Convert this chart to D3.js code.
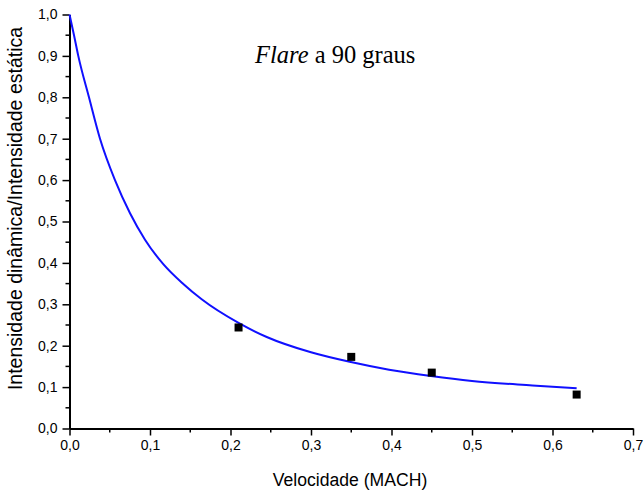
<!DOCTYPE html>
<html>
<head>
<meta charset="utf-8">
<script src="https://cdn.jsdelivr.net/npm/d3@7"></script>
<style>
  html, body { margin: 0; padding: 0; background: #fff; }
  svg { display: block; }
</style>
</head>
<body>
<svg id="chart" width="644" height="493"></svg>
<script>
// Measured points (Mach number vs. dynamic/static intensity ratio)
const machMeasured = [0.21, 0.35, 0.45, 0.63];
const ratioMeasured = [0.244, 0.173, 0.135, 0.082];

// Fitted decay curve
const machFit = [0, 0.0056, 0.0109, 0.0242, 0.0379, 0.0565, 0.0752, 0.0938, 0.1165, 0.1414, 0.1642, 0.21, 0.245, 0.30, 0.348, 0.397, 0.449, 0.50, 0.575, 0.63];
const ratioFit = [1.0, 0.95, 0.9, 0.8, 0.7, 0.6, 0.52, 0.456, 0.397, 0.349, 0.312, 0.255, 0.221, 0.184, 0.161, 0.142, 0.127, 0.115, 0.104, 0.097];

// Axis ticks
const xTicks = [0, 0.1, 0.2, 0.3, 0.4, 0.5, 0.6, 0.7];
const yTicks = [0, 0.1, 0.2, 0.3, 0.4, 0.5, 0.6, 0.7, 0.8, 0.9, 1.0];

const fmt = d => d3.format(".1f")(d).replace(".", ",");

const svg = d3.select("#chart");
const x = d3.scaleLinear().domain([0, 0.7]).range([69.5, 633]);
const y = d3.scaleLinear().domain([0, 1]).range([428.5, 14.5]);

const minorX = d3.range(0.05, 0.7, 0.1);
const minorY = d3.range(0.05, 1.0, 0.1);

const sansFont = "Liberation Sans, Arial, sans-serif";

// Bottom axis
const gx = svg.append("g").attr("transform", `translate(0,${y(0)})`);
gx.call(d3.axisBottom(x).tickValues(xTicks).tickFormat(fmt).tickSize(7).tickSizeOuter(0).tickPadding(5));
gx.selectAll(null).data(minorX).enter().append("line")
  .attr("x1", d => x(d)).attr("x2", d => x(d)).attr("y1", 0).attr("y2", 4)
  .attr("stroke", "#000").attr("stroke-width", 1.5);

// Left axis
const gy = svg.append("g").attr("transform", `translate(${x(0)},0)`);
gy.call(d3.axisLeft(y).tickValues(yTicks).tickFormat(fmt).tickSize(7).tickSizeOuter(0).tickPadding(5));
gy.selectAll(null).data(minorY).enter().append("line")
  .attr("y1", d => y(d)).attr("y2", d => y(d)).attr("x1", 0).attr("x2", -4)
  .attr("stroke", "#000").attr("stroke-width", 1.5);

[gx, gy].forEach(g => {
  g.select(".domain").attr("stroke", "#000").attr("stroke-width", 2);
  g.selectAll(".tick line").attr("stroke", "#000").attr("stroke-width", 1.5);
  g.selectAll(".tick text").attr("font-family", sansFont).attr("font-size", 14).attr("fill", "#000");
});

// Fitted curve
const fitData = machFit.map((m, i) => [m, ratioFit[i]]);
svg.append("path")
  .datum(fitData)
  .attr("fill", "none")
  .attr("stroke", "#1010ff")
  .attr("stroke-width", 2)
  .attr("d", d3.line().x(d => x(d[0])).y(d => y(d[1])).curve(d3.curveMonotoneX));

// Measured points
const s = 8;
svg.selectAll("rect.pt")
  .data(machMeasured.map((m, i) => [m, ratioMeasured[i]]))
  .enter().append("rect")
  .attr("class", "pt")
  .attr("x", d => x(d[0]) - s / 2)
  .attr("y", d => y(d[1]) - s / 2)
  .attr("width", s).attr("height", s)
  .attr("fill", "#000");

// Axis titles
svg.append("text")
  .attr("x", 350).attr("y", 486)
  .attr("text-anchor", "middle")
  .attr("font-family", sansFont).attr("font-size", 17.6)
  .text("Velocidade (MACH)");

svg.append("text")
  .attr("transform", "translate(22,208.5) rotate(-90)")
  .attr("text-anchor", "middle")
  .attr("font-family", sansFont).attr("font-size", 19.5)
  .text("Intensidade dinâmica/Intensidade estática");

// Title inside the plot
const title = svg.append("text")
  .attr("x", 255).attr("y", 63)
  .attr("font-family", "Liberation Serif, Times New Roman, serif")
  .attr("font-size", 24.5);
title.append("tspan").attr("font-style", "italic").text("Flare");
title.append("tspan").text(" a 90 graus");
</script>
</body>
</html>
